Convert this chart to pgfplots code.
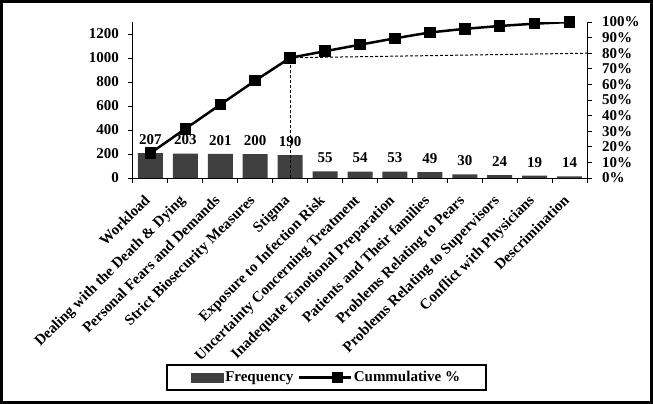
\documentclass[border=0pt]{standalone}
\usepackage{pgfplots}
\pgfplotsset{compat=1.18}
\usepackage{fontspec}
\setmainfont{Liberation Serif}
\definecolor{barcol}{HTML}{404040}
\pgfplotsset{/pgf/number format/assume math mode=true, /pgf/number format/1000 sep={}}
\newcommand{\ff}{\fontsize{15bp}{17bp}\selectfont\bfseries}
\begin{document}
\begin{tikzpicture}
\draw[line width=3bp] (-131.5bp,-224.5bp) rectangle (518.5bp,176.5bp);
\begin{axis}[
  scale only axis, width=454bp, height=156bp,
  xmin=-0.5, xmax=12.5, ymin=0, ymax=1300,
  axis x line*=bottom, axis y line*=left,
  axis line style={line width=1bp},
  tick align=outside,
  ytick={0,200,...,1200},
  xtick={0,...,12},
  xticklabels={Workload, Dealing with the Death \& Dying, Personal Fears and Demands, Strict Biosecurity Measures, Stigma, Exposure to Infection Risk, Uncertainty Concerning Treatment, Inadequate Emotional Preparation, Patients and Their families, Problems Relating to Pears, Problems Relating to Supervisors, Conflict with Physicians, Descrimination},
  major x tick style={draw=none},
  minor xtick={-0.5,0.5,...,12.5},
  minor tick length=5bp, major tick length=5bp,
  tick style={line width=1bp, black},
  ticklabel style={font=\ff},
  xticklabel style={anchor=north east, inner sep=2bp, xshift=-7bp, yshift=-8bp, rotate=45},
  yticklabel style={inner sep=2bp, xshift=-7bp},
  nodes near coords,
  every node near coord/.append style={font=\ff, yshift=5bp},
]
\addplot[ybar, bar width=25bp, fill=barcol, draw=none] coordinates {
(0,207) (1,203) (2,201) (3,200) (4,190) (5,55) (6,54) (7,53) (8,49) (9,30) (10,24) (11,19) (12,14)};
\end{axis}
\begin{axis}[
  scale only axis, width=454bp, height=156bp,
  xmin=-0.5, xmax=12.5, ymin=0, ymax=100,
  axis x line=none, axis y line*=right,
  axis line style={line width=1bp},
  tick align=outside, major tick length=5bp,
  tick style={line width=1bp, black},
  ytick={0,10,...,100},
  yticklabel={\pgfmathprintnumber{\tick}\%},
  yticklabel style={font=\ff, inner sep=2bp, xshift=8bp},
  legend columns=2,
  legend style={at={(0.4255,-1.279)}, anchor=center, draw=black, line width=2bp, font=\ff, inner xsep=24bp, inner ysep=5bp,
    nodes={inner sep=1.5bp},
    /tikz/every even column/.append style={column sep=3bp}},
]
\addlegendimage{legend image code/.code={\fill[barcol] (0bp,-4bp) rectangle (31bp,4bp);}}
\addlegendentry{Frequency}
\addplot[forget plot, black, line width=1bp, dash pattern=on 3bp off 2bp] coordinates {(4,0) (4,77.06)};
\addplot[forget plot, black, line width=1bp, dash pattern=on 3bp off 2bp] coordinates {(4,77.06) (12.5,80)};
\addplot[black, line width=2.5bp, mark=square*, mark size=4.5bp,
  legend image code/.code={\draw[black, line width=2.5bp] (0bp,0bp) -- (52bp,0bp); \fill[black] (34bp,-4.5bp) rectangle (43bp,4.5bp);}]
coordinates {(0,15.94) (1,31.56) (2,47.04) (3,62.43) (4,77.06) (5,81.29) (6,85.45) (7,89.53) (8,93.30) (9,95.61) (10,97.46) (11,98.92) (12,100)};
\addlegendentry{Cummulative \%}
\end{axis}
\end{tikzpicture}
\end{document}
